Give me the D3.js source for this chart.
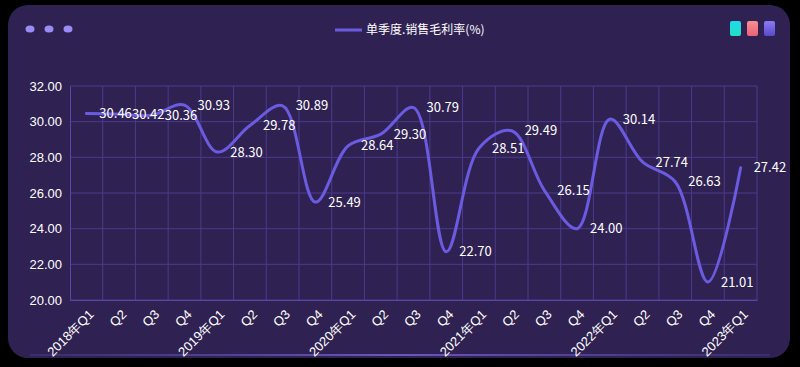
<!DOCTYPE html>
<html>
<head>
<meta charset="utf-8">
<script src="https://cdn.jsdelivr.net/npm/d3@7"></script>
<style>
  html, body { margin: 0; padding: 0; background: #000; }
  svg { display: block; font-family: "Microsoft YaHei", "Noto Sans CJK SC", sans-serif; }
</style>
</head>
<body>
<svg id="chart" width="800" height="367"></svg>
<script>
// quarters 2018Q1 .. 2023Q1
var quarters = ["2018年Q1", "Q2", "Q3", "Q4",
    "2019年Q1", "Q2", "Q3", "Q4",
    "2020年Q1", "Q2", "Q3", "Q4",
    "2021年Q1", "Q2", "Q3", "Q4",
    "2022年Q1", "Q2", "Q3", "Q4",
    "2023年Q1"];
var grossMargin = [30.46, 30.42, 30.36, 30.93,
    28.30, 29.78, 30.89, 25.49,
    28.64, 29.30, 30.79, 22.70,
    28.51, 29.49, 26.15, 24.00,
    30.14, 27.74, 26.63, 21.01,
    27.42];
var yTicks = [20, 22, 24, 26, 28, 30, 32];
var seriesName = "单季度.销售毛利率(%)";

var svg = d3.select("#chart");
var defs = svg.append("defs");

// panel background
svg.append("rect")
    .attr("x", 8).attr("y", 5)
    .attr("width", 782).attr("height", 353)
    .attr("rx", 20)
    .attr("fill", "#2f2253");

var lineGrad = defs.append("linearGradient").attr("id", "bottomLine");
lineGrad.append("stop").attr("offset", "0%").attr("stop-color", "#5a49a8").attr("stop-opacity", 0.3);
lineGrad.append("stop").attr("offset", "50%").attr("stop-color", "#6a58c0");
lineGrad.append("stop").attr("offset", "100%").attr("stop-color", "#5a49a8").attr("stop-opacity", 0.3);
svg.append("rect")
    .attr("x", 30).attr("y", 354)
    .attr("width", 740).attr("height", 2)
    .attr("fill", "url(#bottomLine)");

// three dots top-left
svg.selectAll("ellipse.dot")
    .data([30, 49, 68])
    .enter()
    .append("ellipse")
    .attr("class", "dot")
    .attr("cx", function (d) { return d; })
    .attr("cy", 29)
    .attr("rx", 4.5).attr("ry", 3.5)
    .attr("fill", "#9a8cf4");

// colour icons top-right
var icons = [["#22d8ee", "#20e0c0"], ["#f59090", "#f06078"], ["#8a7cf2", "#5a48cc"]];
icons.forEach(function (c, i) {
    var g = defs.append("linearGradient").attr("id", "icon" + i)
        .attr("x1", 0).attr("y1", 0).attr("x2", 0).attr("y2", 1);
    g.append("stop").attr("offset", "0%").attr("stop-color", c[0]);
    g.append("stop").attr("offset", "100%").attr("stop-color", c[1]);
    svg.append("rect")
        .attr("x", 730 + i * 17).attr("y", 21)
        .attr("width", 11).attr("height", 15)
        .attr("rx", 2)
        .attr("fill", "url(#icon" + i + ")");
});

// legend
svg.append("line")
    .attr("x1", 335).attr("x2", 362)
    .attr("y1", 30).attr("y2", 30)
    .attr("stroke", "#6b5be0").attr("stroke-width", 3);
svg.append("text")
    .attr("x", 366).attr("y", 30)
    .attr("dy", "0.35em")
    .attr("font-size", 12)
    .attr("fill", "#ffffff")
    .text(seriesName);

var margin = { left: 70, right: 43, top: 86, bottom: 67 };
var width = 800 - margin.left - margin.right;
var height = 367 - margin.top - margin.bottom;

// labels repeat (Q2, Q3...), so the band scale works on indices
var x = d3.scaleBand().domain(d3.range(quarters.length)).range([0, width]);
var y = d3.scaleLinear().domain([20, 32]).range([height, 0]);
var cx = function (i) { return x(i) + x.bandwidth() / 2; };

var plot = svg.append("g")
    .attr("transform", "translate(" + margin.left + "," + margin.top + ")");

// grid
plot.selectAll("line.hgrid")
    .data(yTicks)
    .enter()
    .append("line")
    .attr("x1", 0).attr("x2", width)
    .attr("y1", function (d) { return y(d); })
    .attr("y2", function (d) { return y(d); })
    .attr("stroke", "#4a3a8c").attr("stroke-width", 1);
plot.selectAll("line.vgrid")
    .data(d3.range(1, quarters.length + 1))
    .enter()
    .append("line")
    .attr("x1", function (d) { return x.step() * d; })
    .attr("x2", function (d) { return x.step() * d; })
    .attr("y1", 0).attr("y2", height)
    .attr("stroke", "#4a3a8c").attr("stroke-width", 1);

// y axis
var yAxis = plot.append("g")
    .call(d3.axisLeft(y).tickValues(yTicks).tickSize(0).tickPadding(8)
        .tickFormat(function (d) { return d.toFixed(2); }));
yAxis.select(".domain").attr("stroke", "#5a46a8");
yAxis.selectAll("text").attr("fill", "#ffffff").attr("font-size", 13);

// x axis
var xAxis = plot.append("g")
    .attr("transform", "translate(0," + height + ")")
    .call(d3.axisBottom(x).tickSize(0).tickPadding(0)
        .tickFormat(function (i) { return quarters[i]; }));
xAxis.select(".domain").attr("stroke", "#5a46a8");
xAxis.selectAll("text")
    .attr("fill", "#ffffff")
    .attr("font-size", 13)
    .attr("text-anchor", "end")
    .attr("dy", "0.35em")
    .attr("transform", "translate(5,12) rotate(-45)");

// smooth line
var line = d3.line()
    .x(function (d, i) { return cx(i); })
    .y(function (d) { return y(d); })
    .curve(d3.curveCatmullRom.alpha(0.5));

plot.append("path")
    .datum(grossMargin)
    .attr("fill", "none")
    .attr("stroke", "#6b5be0")
    .attr("stroke-width", 3)
    .attr("stroke-linecap", "round")
    .attr("d", line);

// value labels
plot.selectAll("text.value")
    .data(grossMargin)
    .enter()
    .append("text")
    .attr("class", "value")
    .attr("x", function (d, i) { return cx(i) + 13; })
    .attr("y", function (d) { return y(d); })
    .attr("dy", "0.35em")
    .attr("font-size", 13)
    .attr("fill", "#ffffff")
    .text(function (d) { return d.toFixed(2); });
</script>
</body>
</html>
